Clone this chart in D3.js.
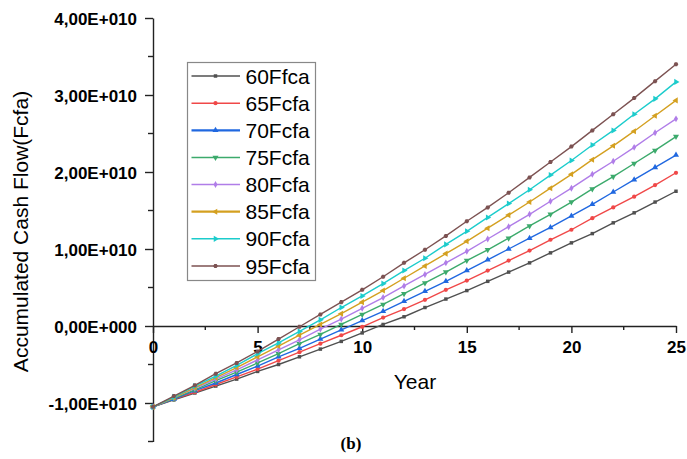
<!DOCTYPE html>
<html>
<head>
<meta charset="utf-8">
<script src="https://cdn.jsdelivr.net/npm/d3@7"></script>
<style>
  body { margin: 0; background: #fff; }
  svg { display: block; font-family: Arial, "Liberation Sans", sans-serif; }
</style>
</head>
<body>
<div id="chart"></div>
<script>
// accumulated cash flow, in units of 1E+010 Fcfa
const years = [0,1,2,3,4,5,6,7,8,9,10,11,12,13,14,15,16,17,18,19,20,21,22,23,24,25];
const seriesNames = ["60Ffca", "65Fcfa", "70Fcfa", "75Fcfa", "80Fcfa", "85Fcfa", "90Fcfa", "95Fcfa"];
const cf60 = [-1.05,-0.96,-0.87,-0.78,-0.69,-0.59,-0.50,-0.40,-0.30,-0.20,-0.09,0.02,0.12,0.24,0.35,0.46,0.58,0.70,0.82,0.95,1.08,1.20,1.34,1.47,1.61,1.75];
const cf65 = [-1.05,-0.95,-0.86,-0.76,-0.66,-0.56,-0.45,-0.34,-0.23,-0.12,-0.01,0.11,0.22,0.34,0.47,0.59,0.72,0.85,0.98,1.12,1.25,1.40,1.54,1.68,1.83,1.99];
const cf70 = [-1.05,-0.95,-0.84,-0.74,-0.63,-0.52,-0.40,-0.29,-0.17,-0.05,0.07,0.19,0.32,0.45,0.58,0.72,0.86,1.00,1.14,1.28,1.43,1.58,1.74,1.90,2.06,2.22];
const cf75 = [-1.05,-0.94,-0.83,-0.71,-0.60,-0.48,-0.36,-0.23,-0.11,0.02,0.15,0.28,0.42,0.56,0.70,0.85,0.99,1.14,1.30,1.45,1.61,1.78,1.94,2.11,2.28,2.46];
const cf80 = [-1.05,-0.93,-0.81,-0.69,-0.57,-0.44,-0.31,-0.18,-0.04,0.09,0.23,0.37,0.52,0.67,0.82,0.97,1.13,1.29,1.45,1.62,1.79,1.97,2.14,2.32,2.51,2.69];
const cf85 = [-1.05,-0.93,-0.80,-0.67,-0.54,-0.40,-0.26,-0.12,0.02,0.16,0.31,0.46,0.62,0.78,0.94,1.10,1.27,1.44,1.61,1.79,1.97,2.16,2.34,2.53,2.73,2.93];
const cf90 = [-1.05,-0.92,-0.78,-0.65,-0.51,-0.36,-0.22,-0.07,0.08,0.24,0.39,0.55,0.72,0.88,1.06,1.23,1.41,1.59,1.77,1.96,2.15,2.35,2.54,2.75,2.95,3.17];
const cf95 = [-1.05,-0.91,-0.77,-0.62,-0.48,-0.33,-0.17,-0.01,0.15,0.31,0.47,0.64,0.82,0.99,1.17,1.36,1.54,1.73,1.93,2.13,2.33,2.54,2.75,2.96,3.18,3.40];
const xTicks = [0, 5, 10, 15, 20, 25];
const yTicks = [-1, 0, 1, 2, 3, 4];

const allValues = [cf60, cf65, cf70, cf75, cf80, cf85, cf90, cf95];
const colors = ["#505050", "#f04848", "#2068e0", "#3caa6c", "#b07de8", "#d4a020", "#1ccccc", "#7c5252"];

const width = 687, height = 459;

const svg = d3.select("#chart").append("svg")
    .attr("width", width)
    .attr("height", height);

const x = d3.scaleLinear().domain([0, 25]).range([153, 676]);
const y = d3.scaleLinear().domain([-1.5, 4]).range([441.5, 18]);

// marker shapes, roughly like Origin's defaults
const hexagon = {
  draw(ctx, size) {
    const r = Math.sqrt(size / (1.5 * Math.sqrt(3)));
    for (let i = 0; i < 6; i++) {
      const a = Math.PI / 3 * i;
      if (i === 0) ctx.moveTo(r * Math.cos(a), r * Math.sin(a));
      else ctx.lineTo(r * Math.cos(a), r * Math.sin(a));
    }
    ctx.closePath();
  }
};
const markers = [
  { type: d3.symbolSquare, rot: 0, size: 12 },
  { type: d3.symbolCircle, rot: 0, size: 14 },
  { type: d3.symbolTriangle, rot: 0, size: 16 },
  { type: d3.symbolTriangle, rot: 180, size: 16 },
  { type: d3.symbolDiamond, rot: 0, size: 14 },
  { type: d3.symbolTriangle, rot: -90, size: 16 },
  { type: d3.symbolTriangle, rot: 90, size: 16 },
  { type: hexagon, rot: 0, size: 14 }
];

// axes
const fmt = v => v === 0 ? "0,00E+000" : v.toFixed(2).replace(".", ",") + "E+010";

const yAxis = svg.append("g")
    .attr("transform", `translate(${x(0)},0)`)
    .call(d3.axisLeft(y).tickValues(yTicks).tickFormat(fmt).tickSize(8).tickSizeOuter(0).tickPadding(8));
yAxis.selectAll(".tick text")
    .attr("font-size", 17).attr("font-weight", "bold").attr("fill", "#000")
    .attr("font-family", "Arial, 'Liberation Sans', sans-serif")
    .attr("dy", "0.36em");

const yMinor = d3.range(-1.5, 4, 1);
yAxis.selectAll(".minor").data(yMinor).enter().append("line")
    .attr("class", "minor")
    .attr("x1", -5).attr("x2", 0)
    .attr("y1", d => y(d)).attr("y2", d => y(d));

const xAxis = svg.append("g")
    .attr("transform", `translate(0,${y(0)})`)
    .call(d3.axisBottom(x).tickValues(xTicks).tickFormat(d3.format("d")).tickSize(7).tickSizeOuter(0));
xAxis.selectAll(".tick text")
    .attr("font-size", 17).attr("font-weight", "bold").attr("fill", "#000")
    .attr("font-family", "Arial, 'Liberation Sans', sans-serif")
    .attr("y", 27).attr("dy", null);

const xMinor = [2.5, 7.5, 12.5, 17.5, 22.5];
xAxis.selectAll(".minor").data(xMinor).enter().append("line")
    .attr("class", "minor")
    .attr("x1", d => x(d)).attr("x2", d => x(d))
    .attr("y1", 0).attr("y2", 4);

svg.selectAll(".domain, .tick line, .minor")
    .attr("stroke", "#222").attr("stroke-width", 1.4);

// lines
const line = d3.line()
    .x((d, i) => x(years[i]))
    .y(d => y(d));

const series = svg.append("g").selectAll("g")
    .data(allValues)
    .enter().append("g");

series.append("path")
    .attr("d", d => line(d))
    .attr("fill", "none")
    .attr("stroke", (d, i) => colors[i])
    .attr("stroke-width", 1.4);

series.each(function (vals, i) {
  const m = markers[i];
  d3.select(this).selectAll("path.pt")
    .data(vals)
    .enter().append("path")
    .attr("class", "pt")
    .attr("d", d3.symbol().type(m.type).size(m.size))
    .attr("transform", (d, j) => `translate(${x(years[j])},${y(d)}) rotate(${m.rot})`)
    .attr("fill", colors[i]);
});

// legend
const legend = svg.append("g");
legend.append("rect")
    .attr("x", 187.5).attr("y", 62.5)
    .attr("width", 128).attr("height", 218)
    .attr("fill", "#fff")
    .attr("stroke", "#888").attr("stroke-width", 1.2);

const rows = legend.selectAll(".row")
    .data(seriesNames)
    .enter().append("g")
    .attr("class", "row")
    .attr("transform", (d, i) => `translate(0,${76 + i * 27.14})`);

rows.append("line")
    .attr("x1", 191.5).attr("x2", 240)
    .attr("stroke", (d, i) => colors[i])
    .attr("stroke-width", (d, i) => (i === 2 || i === 5) ? 2.2 : 1.5);

rows.append("path")
    .attr("d", (d, i) => d3.symbol().type(markers[i].type).size(markers[i].size)())
    .attr("transform", (d, i) => `translate(215.5,0) rotate(${markers[i].rot})`)
    .attr("fill", (d, i) => colors[i]);

rows.append("text")
    .attr("x", 245.5).attr("y", 7.6)
    .attr("font-size", 21)
    .attr("fill", "#000")
    .text(d => d);

// titles
svg.append("text")
    .attr("transform", `translate(28,231.5) rotate(-90)`)
    .attr("text-anchor", "middle")
    .attr("font-size", 21)
    .text("Accumulated Cash Flow(Fcfa)");

svg.append("text")
    .attr("x", 415).attr("y", 388.5)
    .attr("text-anchor", "middle")
    .attr("font-size", 21)
    .text("Year");

svg.append("text")
    .attr("x", 351).attr("y", 449)
    .attr("text-anchor", "middle")
    .attr("font-family", "'Times New Roman', 'Liberation Serif', serif")
    .attr("font-weight", "bold")
    .attr("font-size", 17)
    .text("(b)");
</script>
</body>
</html>
